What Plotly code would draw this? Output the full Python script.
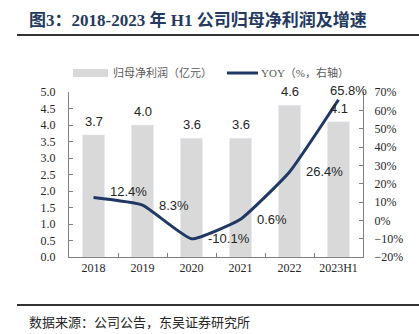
import plotly.graph_objects as go

# Series data
years = ["2018", "2019", "2020", "2021", "2022", "2023H1"]
net_profit = [3.7, 4.0, 3.6, 3.6, 4.6, 4.1]          # 归母净利润（亿元）
yoy = [12.4, 8.3, -10.1, 0.6, 26.4, 65.8]             # 同比增速（%）

bar_name = "归母净利润（亿元）"
line_name = "YOY（%，右轴）"
title_text = "图3：2018-2023 年 H1 公司归母净利润及增速"
source_text = "数据来源：公司公告，东吴证券研究所"

W, H = 419, 334
ML, MR, MT, MB = 69, 56, 92, 77
PW, PH = W - ML - MR, H - MT - MB

NAVY = "#1f3864"
BAR = "#d9d9d9"
SERIF = "Liberation Serif, Noto Sans CJK SC"
SANS = "Liberation Sans, Arial, sans-serif"


def px(x):
    return (x - ML) / PW


def py(y):
    return (H - MB - y) / PH


fig = go.Figure()
fig.add_trace(go.Bar(x=years, y=net_profit, name=bar_name, marker_color=BAR,
                     width=0.45, showlegend=False))
fig.add_trace(go.Scatter(x=years, y=yoy, name=line_name, yaxis="y2", mode="lines",
                         line=dict(color=NAVY, width=3, shape="spline", smoothing=0.4),
                         showlegend=False))

ann = []
# value labels above bars (category axis positions are indices)
for i, v in enumerate(net_profit):
    ann.append(dict(x=i, y=v, xref="x", yref="y", text=f"{v:.1f}", showarrow=False,
                    xanchor="center", yanchor="bottom", yshift=4,
                    font=dict(family=SANS, size=13, color="#262626")))
# growth-rate labels next to the line points
for i, v in enumerate(yoy):
    if i == len(yoy) - 1:
        ann.append(dict(x=i, y=v, xref="x", yref="y2", text=f"{v:.1f}%", showarrow=False,
                        xanchor="center", yanchor="bottom", xshift=10, yshift=0,
                        font=dict(family=SANS, size=13, color="#262626")))
    else:
        ys = 6 if i == 0 else 0
        ann.append(dict(x=i, y=v, xref="x", yref="y2", text=f"{v:.1f}%", showarrow=False,
                        xanchor="left", yanchor="middle", xshift=14, yshift=ys,
                        font=dict(family=SANS, size=13, color="#262626")))

# title, source note, legend labels
ann.append(dict(x=px(27), y=py(20), xref="paper", yref="paper", text=f"<b>{title_text}</b>",
                showarrow=False, xanchor="left", yanchor="middle",
                font=dict(family=SERIF, size=17, color="#243a5e")))
ann.append(dict(x=px(27), y=py(322), xref="paper", yref="paper", text=source_text,
                showarrow=False, xanchor="left", yanchor="middle",
                font=dict(family=SERIF, size=13, color="#262626")))
ann.append(dict(x=px(111), y=py(73), xref="paper", yref="paper", text=bar_name,
                showarrow=False, xanchor="left", yanchor="middle",
                font=dict(family=SERIF, size=11, color="#595959")))
ann.append(dict(x=px(259), y=py(73), xref="paper", yref="paper", text=line_name,
                showarrow=False, xanchor="left", yanchor="middle",
                font=dict(family=SERIF, size=11, color="#595959")))

shapes = [
    dict(type="line", xref="paper", yref="paper", x0=px(17), x1=px(419), y0=py(35), y1=py(35),
         line=dict(color="#333333", width=2)),
    dict(type="line", xref="paper", yref="paper", x0=px(17), x1=px(419), y0=py(305), y1=py(305),
         line=dict(color="#333333", width=2)),
    dict(type="rect", xref="paper", yref="paper", x0=px(73), x1=px(108), y0=py(77), y1=py(69),
         fillcolor=BAR, line=dict(width=0)),
    dict(type="line", xref="paper", yref="paper", x0=px(227), x1=px(258), y0=py(73), y1=py(73),
         line=dict(color=NAVY, width=3)),
]

axis_font = dict(family="Liberation Serif", size=12, color="#262626")
fig.update_layout(
    width=W, height=H, margin=dict(l=ML, r=MR, t=MT, b=MB),
    paper_bgcolor="white", plot_bgcolor="white",
    showlegend=False, annotations=ann, shapes=shapes,
    xaxis=dict(type="category", range=[-0.5, 5.5], showline=True, linecolor="#7f7f7f",
               linewidth=1, ticks="inside", tickson="boundaries", ticklen=4,
               tickcolor="#7f7f7f", tickfont=axis_font, showgrid=False),
    yaxis=dict(range=[0, 5], dtick=0.5, tickformat=".1f", showline=True, linecolor="#7f7f7f",
               ticks="inside", ticklen=4, tickcolor="#7f7f7f", tickfont=axis_font,
               showgrid=False, zeroline=False, ticklabelstandoff=10),
    yaxis2=dict(range=[-20, 70], dtick=10, ticksuffix="%", overlaying="y", side="right",
                showline=True, linecolor="#7f7f7f", ticks="inside", ticklen=4,
                tickcolor="#7f7f7f", tickfont=axis_font, showgrid=False, zeroline=False,
                ticklabelstandoff=8),
)

fig.write_html("out.html")
